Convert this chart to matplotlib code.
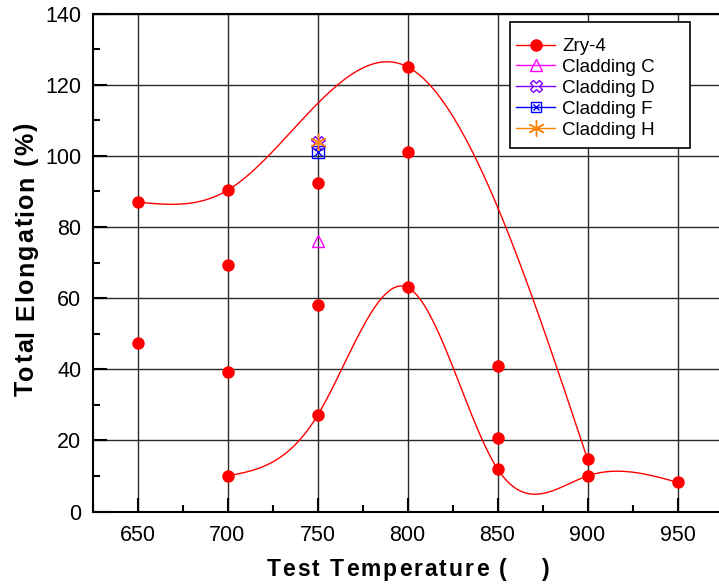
import numpy as np
import matplotlib
matplotlib.use("Agg")
import matplotlib.pyplot as plt
from matplotlib.ticker import MultipleLocator
from matplotlib.font_manager import FontProperties
from matplotlib.patches import Rectangle

plt.rcParams['font.family'] = ['Liberation Sans', 'DejaVu Sans']

# Zry-4 data (test temperature, total elongation)
zry_temp = [650, 650, 700, 700, 700, 700, 750, 750, 750, 800, 800, 800, 850, 850, 850, 900, 900, 950]
zry_elong = [87.0, 47.5, 90.3, 69.3, 39.2, 10.0, 92.3, 58.0, 27.0, 125.0, 101.0, 63.0, 40.8, 20.7, 12.0, 14.7, 10.0, 8.2]

# cladding samples at 750
clad_c = ([750], [76.0])
clad_d = ([750], [103.5])
clad_f = ([750], [101.2])
clad_h = ([750], [104.0])

# points the two smoothed trend curves pass through
upper_x = [650, 700, 800, 900]
upper_y = [87.0, 90.3, 125.0, 14.7]
lower_x = [700, 750, 800, 850, 900, 950]
lower_y = [10.0, 27.0, 63.0, 12.0, 10.0, 8.2]

W, H = 719, 585


def natural_spline(x, y, n=300):
    x = np.asarray(x, float)
    y = np.asarray(y, float)
    k = len(x)
    h = np.diff(x)
    A = np.zeros((k, k))
    b = np.zeros(k)
    A[0, 0] = A[-1, -1] = 1
    for i in range(1, k - 1):
        A[i, i - 1] = h[i - 1]
        A[i, i] = 2 * (h[i - 1] + h[i])
        A[i, i + 1] = h[i]
        b[i] = 6 * ((y[i + 1] - y[i]) / h[i] - (y[i] - y[i - 1]) / h[i - 1])
    m = np.linalg.solve(A, b)
    xs = np.linspace(x[0], x[-1], n)
    idx = np.clip(np.searchsorted(x, xs) - 1, 0, k - 2)
    x0, x1 = x[idx], x[idx + 1]
    hh = x1 - x0
    t0, t1 = x1 - xs, xs - x0
    ys = (m[idx] * t0**3 + m[idx + 1] * t1**3) / (6 * hh) \
        + (y[idx] / hh - m[idx] * hh / 6) * t0 \
        + (y[idx + 1] / hh - m[idx + 1] * hh / 6) * t1
    return xs, ys


def spaced_text(fig, s, center, base, size, track, vertical=False):
    # draw a bold label letter by letter with extra tracking (pixels)
    r = fig.canvas.get_renderer()
    fp = FontProperties(family=['Liberation Sans', 'DejaVu Sans'], weight='bold', size=size)
    ref = r.get_text_width_height_descent('||', fp, ismath=False)[0]
    widths = [r.get_text_width_height_descent('|' + c + '|', fp, ismath=False)[0] - ref for c in s]
    total = sum(widths) + track * (len(s) - 1)
    pos = center - total / 2
    for c, w in zip(s, widths):
        if vertical:
            fig.text(base / W, pos / H, c, fontproperties=fp,
                     rotation=90, rotation_mode='anchor', ha='left', va='baseline')
        else:
            fig.text(pos / W, 1 - base / H, c, fontproperties=fp, ha='left', va='baseline')
        pos += w + track


fig = plt.figure(figsize=(7.19, 5.85), dpi=100)
ax = fig.add_axes([92.5 / W, 73.5 / H, 630 / W, 498 / H])

ux, uy = natural_spline(upper_x, upper_y)
lx, ly = natural_spline(lower_x, lower_y)
ax.plot(ux, uy, color='red', lw=1, zorder=3)
ax.plot(lx, ly, color='red', lw=1, zorder=3)

asterisk = (6, 2, 0)
ax.plot(zry_temp, zry_elong, 'o', color='red', ms=9, mew=0, zorder=5)
ax.plot(*clad_c, '^', mfc='none', mec='magenta', ms=9, mew=1, zorder=5)
ax.plot(*clad_d, 'X', mfc='none', mec='#8000ff', ms=10, mew=1, zorder=5)
ax.plot(*clad_f, 's', mfc='none', mec='blue', ms=8, mew=1, zorder=5)
ax.plot(*clad_f, 'x', color='blue', ms=6, mew=1, zorder=5)
ax.plot(*clad_h, marker=asterisk, ls='none', color='#ff8000', ms=12, mew=1, zorder=6)

# legend handles
hz, = ax.plot([], [], '-o', color='red', ms=9, mew=0, lw=1)
hc, = ax.plot([], [], '-^', color='magenta', mfc='none', ms=8, lw=1)
hd, = ax.plot([], [], '-X', color='#8000ff', mfc='none', ms=9, lw=1)
hf, = ax.plot([], [], '-s', color='blue', mfc='none', ms=7, lw=1)
hfx, = ax.plot([], [], 'x', color='blue', ms=5, mew=1)
hh, = ax.plot([], [], '-', marker=asterisk, color='#ff8000', ms=12, lw=1)
leg = ax.legend(handles=[hz, hc, hd, (hf, hfx), hh],
                labels=['Zry-4', 'Cladding C', 'Cladding D', 'Cladding F', 'Cladding H'],
                loc='upper left', bbox_to_anchor=(516 / W, 1 - 38 / H),
                bbox_transform=fig.transFigure, fontsize=13.5, frameon=False,
                handlelength=2.08, borderpad=0, labelspacing=0.2,
                handletextpad=0.37, borderaxespad=0)
leg.set_zorder(10)
ax.add_patch(Rectangle((510 / W, 1 - 148 / H), 180 / W, 126 / H, transform=fig.transFigure,
                       facecolor='white', edgecolor='black', lw=1.2, zorder=9, clip_on=False))

ax.set_xlim(625, 975)
ax.set_ylim(0, 140)
ax.xaxis.set_major_locator(MultipleLocator(50))
ax.xaxis.set_minor_locator(MultipleLocator(25))
ax.yaxis.set_major_locator(MultipleLocator(20))
ax.yaxis.set_minor_locator(MultipleLocator(10))
ax.tick_params(which='major', direction='in', length=10, width=1.5, labelsize=15.5, pad=10)
ax.tick_params(which='minor', direction='in', length=5, width=1.5)
ax.tick_params(axis='y', pad=8)
ax.grid(True, which='major', color='#2a2a2a', lw=1)
ax.set_axisbelow(True)
for s in ax.spines.values():
    s.set_linewidth(1.5)
ax.spines['right'].set_visible(False)

# axis titles, letter-spaced like the original
spaced_text(fig, 'Test Temperature (    )', center=408, base=576, size=16.5, track=2.0)
spaced_text(fig, 'Total Elongation (%)', center=H - 259.5, base=33, size=18, track=1.7, vertical=True)

fig.savefig('out.png', dpi=100)
